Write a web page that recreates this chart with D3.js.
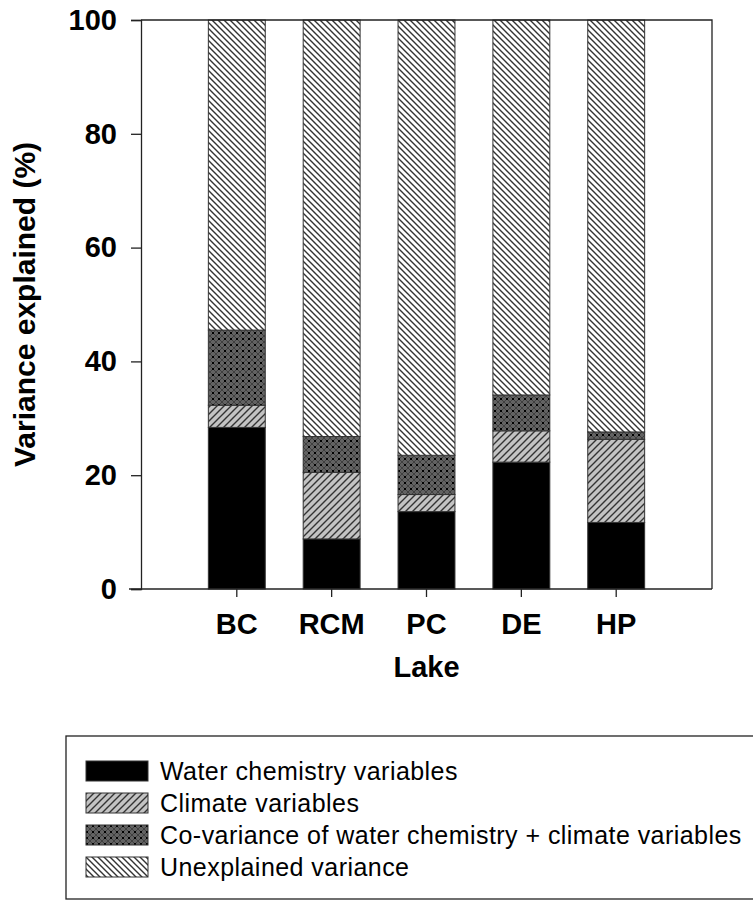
<!DOCTYPE html>
<html>
<head>
<meta charset="utf-8">
<script src="https://cdn.jsdelivr.net/npm/d3@7"></script>
<style>
  body { margin: 0; background: #fff; }
  text { font-family: Arial, "Liberation Sans", sans-serif; }
</style>
</head>
<body>
<div id="chart"></div>
<script>
// data (percent of variance)
var lakes = ["BC", "RCM", "PC", "DE", "HP"];
var waterChem = [28.4, 8.8, 13.6, 22.3, 11.7];
var climate = [3.9, 11.7, 3.0, 5.5, 14.6];
var covariance = [13.2, 6.3, 6.9, 6.3, 1.3];
var unexplained = [54.5, 73.2, 76.5, 65.9, 72.4];
var seriesNames = ["Water chemistry variables", "Climate variables",
    "Co-variance of water chemistry + climate variables", "Unexplained variance"];
var yTicks = [0, 20, 40, 60, 80, 100];

function init() {
    var w = 753;
    var h = 901;
    var left = 141, right = 712, top = 20, bottom = 589;

    var svg = d3.select("#chart")
        .append("svg")
        .attr("width", w)
        .attr("height", h);

    var defs = svg.append("defs");

    // climate: light grey with forward hatch
    var p1 = defs.append("pattern").attr("id", "pClimate")
        .attr("patternUnits", "userSpaceOnUse").attr("width", 7).attr("height", 7);
    p1.append("rect").attr("width", 7).attr("height", 7).attr("fill", "#c3c3c3");
    p1.append("path").attr("d", "M-1,1 l2,-2 M0,7 l7,-7 M6,8 l2,-2")
        .attr("stroke", "#333").attr("stroke-width", 1.4);

    // co-variance: dark grey cross hatch with black dots
    var p2 = defs.append("pattern").attr("id", "pCovar")
        .attr("patternUnits", "userSpaceOnUse").attr("width", 6).attr("height", 6);
    p2.append("rect").attr("width", 6).attr("height", 6).attr("fill", "#626262");
    p2.append("path").attr("d", "M0,0 L6,6 M6,0 L0,6")
        .attr("stroke", "#404040").attr("stroke-width", 1);
    p2.append("rect").attr("x", 2).attr("y", 2).attr("width", 2).attr("height", 2).attr("fill", "#000");

    // unexplained: white with back hatch
    var p3 = defs.append("pattern").attr("id", "pUnexp")
        .attr("patternUnits", "userSpaceOnUse").attr("width", 6).attr("height", 6);
    p3.append("rect").attr("width", 6).attr("height", 6).attr("fill", "#fff");
    p3.append("path").attr("d", "M-1,5 l2,2 M0,0 l6,6 M5,-1 l2,2")
        .attr("stroke", "#333").attr("stroke-width", 1.4);

    var fills = ["#000", "url(#pClimate)", "url(#pCovar)", "url(#pUnexp)"];

    var table = lakes.map(function (d, i) {
        return { lake: d, s0: waterChem[i], s1: climate[i], s2: covariance[i], s3: unexplained[i] };
    });
    var stacked = d3.stack().keys(["s0", "s1", "s2", "s3"])(table);

    var x = d3.scaleBand()
        .domain(lakes)
        .range([left, right])
        .paddingInner(0.4)
        .paddingOuter(0.71);

    var y = d3.scaleLinear()
        .domain([0, 100])
        .range([bottom, top]);

    // bars
    svg.selectAll("g.layer")
        .data(stacked)
        .enter()
        .append("g")
        .attr("class", "layer")
        .attr("fill", function (d, i) { return fills[i]; })
        .selectAll("rect")
        .data(function (d) { return d; })
        .enter()
        .append("rect")
        .attr("x", function (d) { return x(d.data.lake); })
        .attr("y", function (d) { return y(d[1]); })
        .attr("width", x.bandwidth())
        .attr("height", function (d) { return y(d[0]) - y(d[1]); })
        .attr("stroke", "#333")
        .attr("stroke-width", 1);

    // frame
    svg.append("path")
        .attr("d", "M" + left + "," + top + "H" + right + "V" + bottom)
        .attr("fill", "none").attr("stroke", "#222").attr("stroke-width", 1.3);

    // y axis
    var yAxis = svg.append("g")
        .attr("transform", "translate(" + left + ",0)")
        .call(d3.axisLeft(y).tickValues(yTicks).tickSize(10).tickPadding(14));
    yAxis.select(".domain").attr("stroke", "#222").attr("stroke-width", 1.3);
    yAxis.selectAll(".tick line").attr("stroke", "#222").attr("stroke-width", 1.3);
    yAxis.selectAll("text")
        .attr("font-size", "29px").attr("font-weight", "bold").attr("fill", "#000")
        .style("font-family", "Arial, 'Liberation Sans', sans-serif");

    // x axis
    var xAxis = svg.append("g")
        .attr("transform", "translate(0," + bottom + ")")
        .call(d3.axisBottom(x).tickSizeInner(8).tickSizeOuter(0).tickPadding(16));
    xAxis.select(".domain").attr("d", "M" + (left - 12) + ",0H" + right)
        .attr("stroke", "#222").attr("stroke-width", 1.3);
    xAxis.selectAll(".tick line").attr("stroke", "#222").attr("stroke-width", 1.3);
    xAxis.selectAll("text")
        .attr("font-size", "29px").attr("font-weight", "bold").attr("fill", "#000")
        .style("font-family", "Arial, 'Liberation Sans', sans-serif");

    // axis titles
    svg.append("text")
        .attr("transform", "translate(35," + ((top + bottom) / 2) + ") rotate(-90)")
        .attr("text-anchor", "middle")
        .attr("font-size", "30px").attr("font-weight", "bold")
        .text("Variance explained (%)");

    svg.append("text")
        .attr("x", (left + right) / 2)
        .attr("y", 677)
        .attr("text-anchor", "middle")
        .attr("font-size", "29px").attr("font-weight", "bold")
        .text("Lake");

    // legend
    var lg = svg.append("g");
    lg.append("rect")
        .attr("x", 66).attr("y", 736).attr("width", 700).attr("height", 163)
        .attr("fill", "#fff").attr("stroke", "#222").attr("stroke-width", 1.3);

    var rows = lg.selectAll("g.row")
        .data(seriesNames)
        .enter()
        .append("g")
        .attr("class", "row")
        .attr("transform", function (d, i) { return "translate(0," + (771 + i * 32) + ")"; });

    rows.append("rect")
        .attr("x", 86).attr("y", -10).attr("width", 62).attr("height", 20)
        .attr("fill", function (d, i) { return fills[i]; })
        .attr("stroke", "#333").attr("stroke-width", 1);

    rows.append("text")
        .attr("x", 160).attr("y", 9)
        .attr("font-size", "25px").attr("fill", "#000")
        .attr("letter-spacing", "0.45px")
        .text(function (d) { return d; });
}
window.onload = init;
</script>
</body>
</html>
